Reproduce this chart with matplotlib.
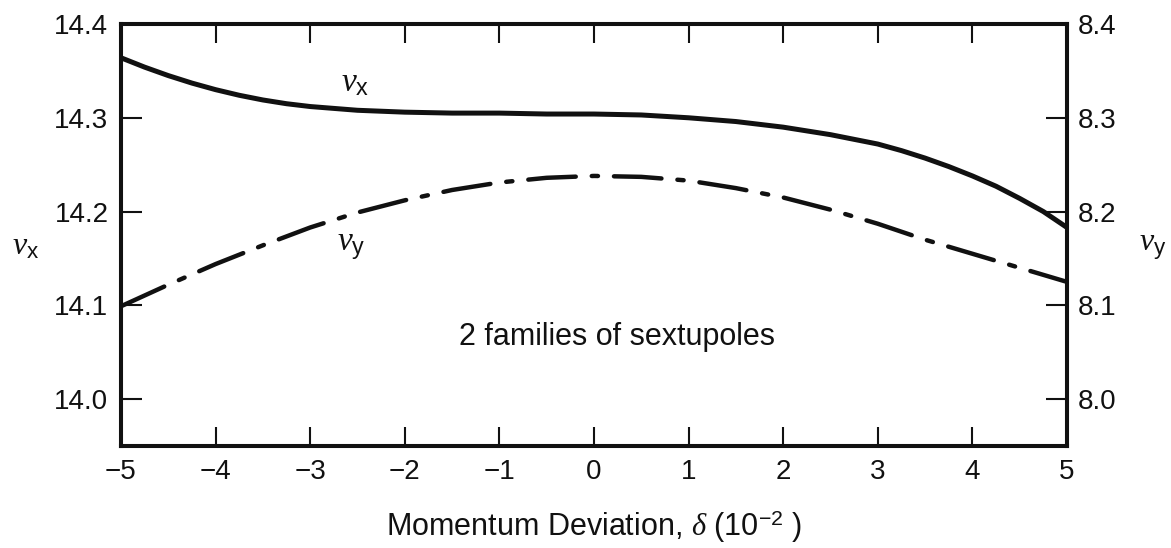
import matplotlib
matplotlib.use('Agg')
import matplotlib.pyplot as plt

#Data (momentum deviation in units of 1e-2)
deltaX = [-5.0, -4.75, -4.5, -4.25, -4.0, -3.75, -3.5, -3.25, -3.0, -2.5, -2.0, -1.5, -1.0, -0.5, 0.0,
		  0.5, 1.0, 1.5, 2.0, 2.5, 3.0, 3.25, 3.5, 3.75, 4.0, 4.25, 4.5, 4.75, 5.0]
nuX = [14.364, 14.354, 14.345, 14.337, 14.330, 14.324, 14.319, 14.315, 14.312, 14.308, 14.306, 14.305, 14.305, 14.304, 14.304,
	   14.303, 14.300, 14.296, 14.290, 14.282, 14.272, 14.265, 14.257, 14.248, 14.238, 14.227, 14.214, 14.200, 14.183]
deltaY = [-5.0, -4.5, -4.0, -3.5, -3.0, -2.5, -2.0, -1.5, -1.0, -0.5, 0.0,
		  0.5, 1.0, 1.5, 2.0, 2.5, 3.0, 3.5, 4.0, 4.5, 5.0]
nuY = [8.099, 8.122, 8.144, 8.164, 8.183, 8.199, 8.212, 8.223, 8.231, 8.236, 8.238,
	   8.237, 8.233, 8.225, 8.215, 8.202, 8.187, 8.170, 8.155, 8.140, 8.125]

xTicks = [-5, -4, -3, -2, -1, 0, 1, 2, 3, 4, 5]
xTickLabels = ['\u22125', '\u22124', '\u22123', '\u22122', '\u22121', '0', '1', '2', '3', '4', '5']
leftTicks = [14.0, 14.1, 14.2, 14.3, 14.4]
rightTicks = [8.0, 8.1, 8.2, 8.3, 8.4]

plt.rcParams['font.family'] = ['Liberation Sans', 'DejaVu Sans']
#Greek in italic serif, plain letters in sans (as in the scanned figure)
plt.rcParams['mathtext.fontset'] = 'custom'
plt.rcParams['mathtext.rm'] = 'Liberation Sans'
plt.rcParams['mathtext.it'] = 'Liberation Serif:italic'
plt.rcParams['mathtext.bf'] = 'Liberation Sans:bold'

fig = plt.figure(figsize=(11.71, 5.48), dpi=100)
ax = fig.add_axes([0.1033, 0.1861, 0.8079, 0.7701])
ax2 = ax.twinx()

ink = '#111111'

#Solid nu_x on left axis, dash-dot nu_y on right axis
ax.plot(deltaX, nuX, color=ink, lw=3.6, solid_capstyle='round', solid_joinstyle='round')
ax2.plot(deltaY, nuY, color=ink, lw=3.2, linestyle=(0, (10.7, 3.6, 1.4, 3.6)),
		 dash_capstyle='round', dash_joinstyle='round')

ax.set_xlim(-5, 5)
ax.set_ylim(13.95, 14.4)
ax2.set_ylim(7.95, 8.4)

ax.set_xticks(xTicks)
ax.set_xticklabels(xTickLabels)
ax.set_yticks(leftTicks)
ax.set_yticklabels(['%.1f' % t for t in leftTicks])
ax2.set_yticks(rightTicks)
ax2.set_yticklabels(['%.1f' % t for t in rightTicks])

ax.tick_params(axis='x', direction='in', length=14, width=1.5, top=True, labelsize=20, pad=9, colors=ink)
ax.tick_params(axis='y', direction='in', length=15, width=1.5, labelsize=20, pad=9, colors=ink)
ax2.tick_params(axis='y', direction='in', length=15, width=1.5, labelsize=20, pad=8, colors=ink)

for a in (ax, ax2):
	for s in a.spines.values():
		s.set_linewidth(2.9)
		s.set_color(ink)

ax.set_xlabel('Momentum Deviation, $\\delta$ (10$^{-2}$ )', fontsize=22, labelpad=17, color=ink)

labX = '$\\nu_{\\mathrm{x}}$'
labY = '$\\nu_{\\mathrm{y}}$'

#Axis titles at the sides
fig.text(0.010, 0.550, labX, fontsize=23, color=ink, va='center')
fig.text(0.973, 0.550, labY, fontsize=23, color=ink, va='center')

#In-plot labels
ax.text(-2.67, 14.337, labX, fontsize=24, color=ink, va='center')
ax2.text(-2.72, 8.163, labY, fontsize=24, color=ink, va='center')

ax.text(0.24, 14.066, '2 families of sextupoles', fontsize=22, color=ink, ha='center', va='center')

fig.savefig('out.png', dpi=100)
